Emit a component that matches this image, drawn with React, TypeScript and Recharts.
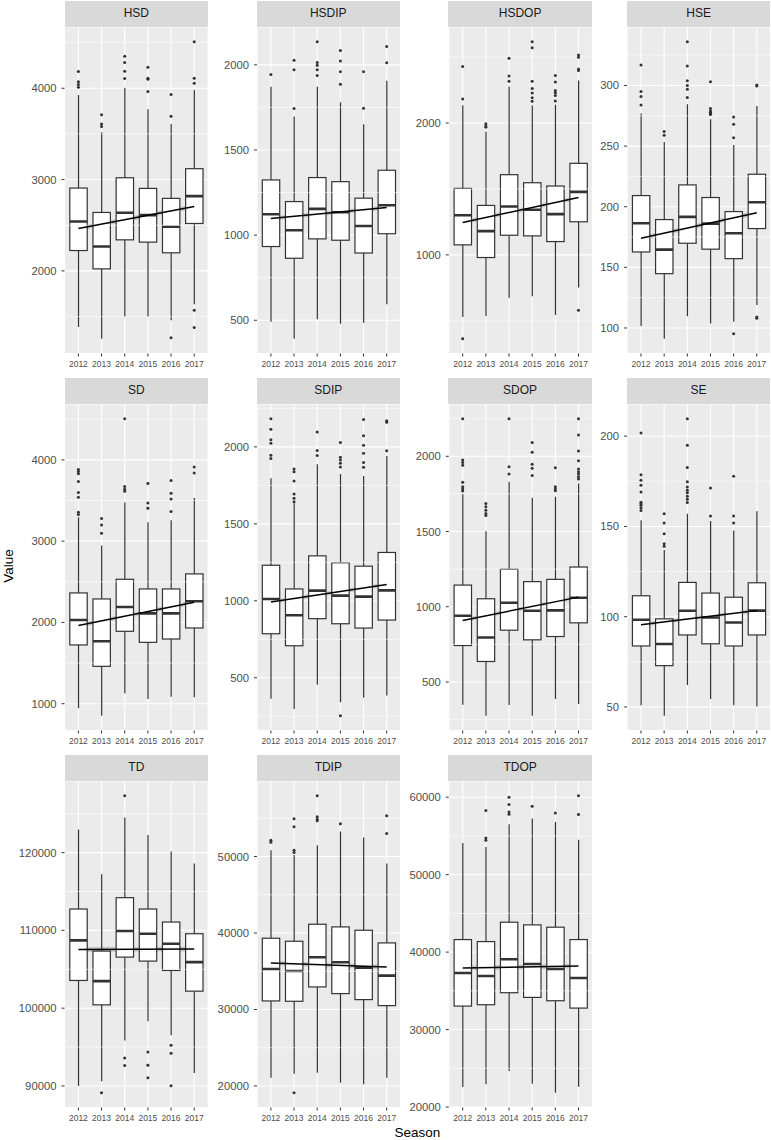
import React from 'react';
import {
  ComposedChart,
  Bar,
  Line,
  Area,
  Scatter,
  XAxis,
  YAxis,
  CartesianGrid,
  ReferenceLine,
} from 'recharts';

// ---------- categories ----------
const SEASONS = [2012, 2013, 2014, 2015, 2016, 2017];

// ---------- HSD ----------
const HSD_LO = [1386, 1258, 1496, 1496, 1459, 1635];
const HSD_Q1 = [2223, 2022, 2340, 2315, 2198, 2519];
const HSD_MED = [2541, 2267, 2636, 2611, 2483, 2819];
const HSD_Q3 = [2907, 2640, 3020, 2903, 2794, 3119];
const HSD_HI = [3927, 3517, 4004, 3770, 3609, 3982];
const HSD_OUT = [[4183, 4070, 4040, 4010], [3711, 3609, 3580], [4351, 4282, 4186, 4106], [4230, 4110, 4099, 3963], [3931, 3693, 1269], [4508, 4110, 4055, 1569, 1379]];
const HSD_FIT = [2464, 2706];
const HSD_CI = [25, 25];
const HSD_TICKS = [2000, 3000, 4000];

// ---------- HSDIP ----------
const HSDIP_LO = [492, 392, 506, 480, 486, 594];
const HSDIP_Q1 = [933, 864, 978, 970, 895, 1008];
const HSDIP_MED = [1123, 1029, 1154, 1134, 1054, 1175];
const HSDIP_Q3 = [1324, 1197, 1338, 1314, 1217, 1381];
const HSDIP_HI = [1871, 1696, 1871, 1781, 1651, 1906];
const HSDIP_OUT = [[1943], [2027, 1971, 1743], [2135, 2014, 1998, 1971, 1937], [2084, 2022, 1959, 1886], [1959, 1745], [2108, 2012]];
const HSDIP_FIT = [1097, 1162];
const HSDIP_CI = [12, 12];
const HSDIP_TICKS = [500, 1000, 1500, 2000];

// ---------- HSDOP ----------
const HSDOP_LO = [529, 537, 676, 686, 544, 752];
const HSDOP_Q1 = [1076, 980, 1149, 1144, 1101, 1251];
const HSDOP_MED = [1301, 1180, 1367, 1342, 1309, 1478];
const HSDOP_Q3 = [1504, 1375, 1608, 1547, 1522, 1694];
const HSDOP_HI = [2134, 1934, 2276, 2132, 2139, 2322];
const HSDOP_OUT = [[2428, 2182, 365], [1995, 1977, 1967], [2491, 2357, 2316], [2615, 2570, 2316, 2261, 2228, 2192, 2165], [2359, 2311, 2246, 2230, 2208, 2167], [2516, 2499, 2410, 2397, 580]];
const HSDOP_FIT = [1246, 1435];
const HSDOP_CI = [15, 15];
const HSDOP_TICKS = [1000, 2000];

// ---------- HSE ----------
const HSE_LO = [101.7, 91.2, 109.6, 103.6, 105.2, 119];
const HSE_Q1 = [162.7, 144.8, 169.9, 165, 157.2, 182];
const HSE_MED = [186.4, 164.6, 191.6, 186.1, 178.1, 203.7];
const HSE_Q3 = [209.2, 189.4, 218, 207.6, 196, 226.8];
const HSE_HI = [276.9, 253.5, 284.6, 272.2, 251, 283];
const HSE_OUT = [[317, 295, 291, 284], [262, 259], [336, 316, 304, 300, 297, 290], [303, 281, 279, 278, 277, 276], [274, 268, 257, 95.3], [300.5, 299.5, 109, 108]];
const HSE_FIT = [174, 195];
const HSE_CI = [1.8, 1.8];
const HSE_TICKS = [100, 150, 200, 250, 300];

// ---------- SD ----------
const SD_LO = [943, 853, 1128, 1058, 1087, 1078];
const SD_Q1 = [1723, 1460, 1891, 1755, 1796, 1932];
const SD_MED = [2030, 1768, 2190, 2112, 2112, 2260];
const SD_Q3 = [2363, 2289, 2531, 2412, 2412, 2597];
const SD_HI = [3294, 2946, 3475, 3233, 3257, 3532];
const SD_OUT = [[3881, 3856, 3828, 3733, 3598, 3540, 3356, 3327], [3280, 3200, 3097], [4505, 3672, 3639, 3614], [3709, 3471, 3405], [3746, 3590, 3520, 3364], [3914, 3840]];
const SD_FIT = [1961, 2248];
const SD_CI = [25, 25];
const SD_TICKS = [1000, 2000, 3000, 4000];

// ---------- SDIP ----------
const SDIP_LO = [363, 298, 454, 341, 370, 385];
const SDIP_Q1 = [786, 708, 884, 851, 823, 875];
const SDIP_MED = [1012, 906, 1066, 1034, 1027, 1068];
const SDIP_Q3 = [1231, 1077, 1292, 1247, 1225, 1314];
const SDIP_HI = [1796, 1633, 1887, 1824, 1811, 1940];
const SDIP_OUT = [[2182, 2115, 2046, 2024, 1946, 1924], [1857, 1839, 1779, 1694, 1666, 1644], [2096, 1976, 1944], [2028, 1933, 1915, 1894, 1870, 254], [2178, 2072, 2011, 1959, 1898, 1868], [2169, 2160, 1974]];
const SDIP_FIT = [993, 1106];
const SDIP_CI = [13, 13];
const SDIP_TICKS = [500, 1000, 1500, 2000];

// ---------- SDOP ----------
const SDOP_LO = [349, 276, 347, 276, 387, 353];
const SDOP_Q1 = [742, 636, 844, 780, 802, 893];
const SDOP_MED = [940, 796, 1027, 973, 976, 1060];
const SDOP_Q3 = [1144, 1053, 1249, 1167, 1182, 1264];
const SDOP_HI = [1749, 1502, 1831, 1724, 1731, 1820];
const SDOP_OUT = [[2249, 1976, 1958, 1940, 1827, 1798, 1782, 1769], [1687, 1664, 1642, 1620, 1607], [2249, 1931, 1882], [2091, 2027, 1947, 1920, 1873], [1924, 1798, 1782, 1771], [2249, 2142, 2036, 1971, 1916, 1898, 1882, 1864, 1849]];
const SDOP_FIT = [909, 1064];
const SDOP_CI = [13, 13];
const SDOP_TICKS = [500, 1000, 1500, 2000];

// ---------- SE ----------
const SE_LO = [51, 45.2, 62.2, 54.4, 51, 50.2];
const SE_Q1 = [83.8, 72.9, 89.9, 85, 83.8, 89.9];
const SE_MED = [98.3, 84.9, 103.3, 99.6, 96.8, 103.4];
const SE_Q3 = [111.6, 98.8, 119, 113.1, 110.8, 118.8];
const SE_HI = [153.4, 137, 157, 153, 147.8, 158.4];
const SE_OUT = [[201.8, 178.7, 175.6, 172.8, 169.1, 163.4, 162.6, 161.7, 160.4, 158.9], [157.1, 151.9, 146, 140.4, 139.1], [209.6, 195, 182.6, 174.8, 171.9, 170, 168.6, 166.7, 165, 163.2], [171.3, 155.8], [177.8, 155.8, 151.9], []];
const SE_FIT = [95.5, 103.4];
const SE_CI = [1.1, 1.1];
const SE_TICKS = [50, 100, 150, 200];

// ---------- TD ----------
const TD_LO = [90000, 90600, 95836, 98325, 96523, 91672];
const TD_Q1 = [103562, 100429, 106566, 106051, 104849, 102188];
const TD_MED = [108712, 103476, 109914, 109571, 108283, 105922];
const TD_Q3 = [112747, 107339, 114206, 112747, 111073, 109571];
const TD_HI = [122961, 117210, 124507, 122275, 120129, 118584];
const TD_OUT = [[], [89140], [127296, 93604, 92617], [94376, 92660, 91072], [95235, 94205, 90042], []];
const TD_FIT = [107553, 107596];
const TD_CI = [320, 320];
const TD_TICKS = [90000, 100000, 110000, 120000];

// ---------- TDIP ----------
const TDIP_LO = [21087, 21610, 21741, 20432, 20214, 21087];
const TDIP_Q1 = [31117, 31073, 32948, 32076, 31291, 30506];
const TDIP_MED = [35303, 35042, 36830, 36175, 35478, 34431];
const TDIP_Q3 = [39316, 38923, 41147, 40800, 40362, 38705];
const TDIP_HI = [50829, 50200, 51483, 53271, 52486, 49084];
const TDIP_OUT = [[52137, 51875], [54928, 53881, 50829, 50523, 19124], [57937, 55190, 54884, 54666], [54274], [], [55320, 53009]];
const TDIP_FIT = [36088, 35565];
const TDIP_CI = [300, 300];
const TDIP_TICKS = [20000, 30000, 40000, 50000];

// ---------- TDOP ----------
const TDOP_LO = [22589, 22934, 24660, 23020, 21855, 22632];
const TDOP_Q1 = [33031, 33204, 34757, 34153, 33722, 32773];
const TDOP_MED = [37303, 36915, 39072, 38468, 37821, 36656];
const TDOP_Q3 = [41618, 41359, 43862, 43517, 43215, 41618];
const TDOP_HI = [54088, 53571, 56505, 57238, 56807, 54520];
const TDOP_OUT = [[], [58274, 54735, 54433], [60000, 59051, 58102, 57799], [58835], [57972], [60173, 57756]];
const TDOP_FIT = [37951, 38210];
const TDOP_CI = [300, 300];
const TDOP_TICKS = [20000, 30000, 40000, 50000, 60000];

const PANELS = [
  { name: 'HSD', lo: HSD_LO, q1: HSD_Q1, med: HSD_MED, q3: HSD_Q3, hi: HSD_HI, out: HSD_OUT, fit: HSD_FIT, ci: HSD_CI, ticks: HSD_TICKS },
  { name: 'HSDIP', lo: HSDIP_LO, q1: HSDIP_Q1, med: HSDIP_MED, q3: HSDIP_Q3, hi: HSDIP_HI, out: HSDIP_OUT, fit: HSDIP_FIT, ci: HSDIP_CI, ticks: HSDIP_TICKS },
  { name: 'HSDOP', lo: HSDOP_LO, q1: HSDOP_Q1, med: HSDOP_MED, q3: HSDOP_Q3, hi: HSDOP_HI, out: HSDOP_OUT, fit: HSDOP_FIT, ci: HSDOP_CI, ticks: HSDOP_TICKS },
  { name: 'HSE', lo: HSE_LO, q1: HSE_Q1, med: HSE_MED, q3: HSE_Q3, hi: HSE_HI, out: HSE_OUT, fit: HSE_FIT, ci: HSE_CI, ticks: HSE_TICKS },
  { name: 'SD', lo: SD_LO, q1: SD_Q1, med: SD_MED, q3: SD_Q3, hi: SD_HI, out: SD_OUT, fit: SD_FIT, ci: SD_CI, ticks: SD_TICKS },
  { name: 'SDIP', lo: SDIP_LO, q1: SDIP_Q1, med: SDIP_MED, q3: SDIP_Q3, hi: SDIP_HI, out: SDIP_OUT, fit: SDIP_FIT, ci: SDIP_CI, ticks: SDIP_TICKS },
  { name: 'SDOP', lo: SDOP_LO, q1: SDOP_Q1, med: SDOP_MED, q3: SDOP_Q3, hi: SDOP_HI, out: SDOP_OUT, fit: SDOP_FIT, ci: SDOP_CI, ticks: SDOP_TICKS },
  { name: 'SE', lo: SE_LO, q1: SE_Q1, med: SE_MED, q3: SE_Q3, hi: SE_HI, out: SE_OUT, fit: SE_FIT, ci: SE_CI, ticks: SE_TICKS },
  { name: 'TD', lo: TD_LO, q1: TD_Q1, med: TD_MED, q3: TD_Q3, hi: TD_HI, out: TD_OUT, fit: TD_FIT, ci: TD_CI, ticks: TD_TICKS },
  { name: 'TDIP', lo: TDIP_LO, q1: TDIP_Q1, med: TDIP_MED, q3: TDIP_Q3, hi: TDIP_HI, out: TDIP_OUT, fit: TDIP_FIT, ci: TDIP_CI, ticks: TDIP_TICKS },
  { name: 'TDOP', lo: TDOP_LO, q1: TDOP_Q1, med: TDOP_MED, q3: TDOP_Q3, hi: TDOP_HI, out: TDOP_OUT, fit: TDOP_FIT, ci: TDOP_CI, ticks: TDOP_TICKS },
];

// ---------- layout ----------
const FONT = '"Liberation Sans", Arial, Helvetica, sans-serif';
const COL_LEFT = [64.5, 256.5, 448.3, 626.8];
const AXIS_W = [64.5, 48, 47.8, 35.1];
const ROW_TOP = [1, 378, 755];
const STRIP_H = 25.5;
const PANEL_W = 143.6;
const PANEL_H = 326.5;
const XAXIS_H = 20;
const BOX_W = 17.4;
const INK = '#333333';

const BoxShape = (props: any) => {
  const { x, y, width, height, payload } = props;
  if (payload == null || x == null) return null;
  const top = Math.min(y, y + height);
  const bot = Math.max(y, y + height);
  const k = (bot - top) / (payload.q3 - payload.q1);
  const py = (v: number) => bot - (v - payload.q1) * k;
  const cx = x + width / 2;
  return (
    <g>
      <line x1={cx} x2={cx} y1={py(payload.q3)} y2={py(payload.hi)} stroke={INK} strokeWidth={1.2} />
      <line x1={cx} x2={cx} y1={py(payload.q1)} y2={py(payload.lo)} stroke={INK} strokeWidth={1.2} />
      <rect x={x} y={top} width={width} height={bot - top} fill="#FFFFFF" stroke={INK} strokeWidth={1.2} />
      <line x1={x} x2={x + width} y1={py(payload.med)} y2={py(payload.med)} stroke={INK} strokeWidth={2.6} />
    </g>
  );
};

const Dot = (props: any) => {
  if (props.cx == null) return null;
  return <circle cx={props.cx} cy={props.cy} r={1.5} fill={INK} />;
};

function Panel({ p, idx }: { p: any; idx: number }) {
  const row = Math.floor(idx / 4);
  const col = idx % 4;
  const rows = SEASONS.map((s, i) => ({
    year: s,
    lo: p.lo[i],
    q1: p.q1[i],
    med: p.med[i],
    q3: p.q3[i],
    hi: p.hi[i],
  }));
  const outRows = SEASONS.flatMap((s, i) => p.out[i].map((v: number) => ({ year: s, v })));
  const fitRows = [
    { year: SEASONS[0], fit: p.fit[0], band: [p.fit[0] - p.ci[0], p.fit[0] + p.ci[0]] },
    { year: SEASONS[SEASONS.length - 1], fit: p.fit[1], band: [p.fit[1] - p.ci[1], p.fit[1] + p.ci[1]] },
  ];
  const all = [...p.lo, ...p.hi, ...p.out.flat()];
  const mn = Math.min(...all);
  const mx = Math.max(...all);
  const pad = (mx - mn) * 0.05;
  const domain = [mn - pad, mx + pad];
  const step = p.ticks[1] - p.ticks[0];
  const minor = [p.ticks[0] - step / 2, ...p.ticks.map((t: number) => t + step / 2)].filter(
    (v: number) => v > domain[0] && v < domain[1]
  );
  const left = COL_LEFT[col];
  const top = ROW_TOP[row];
  const aw = AXIS_W[col];
  return (
    <>
      <div
        style={{
          position: 'absolute',
          left,
          top,
          width: PANEL_W,
          height: STRIP_H,
          background: '#D9D9D9',
          color: '#1A1A1A',
          fontFamily: FONT,
          fontSize: 12,
          lineHeight: `${STRIP_H}px`,
          textAlign: 'center',
        }}
      >
        {p.name}
      </div>
      <div style={{ position: 'absolute', left: left - aw, top: top + STRIP_H }}>
        <ComposedChart
          width={aw + PANEL_W}
          height={PANEL_H + XAXIS_H}
          data={rows}
          margin={{ top: 0, right: 0, bottom: 0, left: 0 }}
        >
          <CartesianGrid fill="#EBEBEB" stroke="#FFFFFF" strokeWidth={1.1} />
          {minor.map((v: number) => (
            <ReferenceLine key={v} y={v} stroke="#FFFFFF" strokeWidth={0.55} />
          ))}
          <XAxis
            dataKey="year"
            type="number"
            domain={[2011.4, 2017.6]}
            allowDataOverflow
            ticks={SEASONS}
            interval={0}
            height={XAXIS_H}
            axisLine={false}
            tickSize={3}
            tickMargin={4}
            tickLine={{ stroke: INK, strokeWidth: 1 }}
            tick={{ fill: '#4D4D4D', fontSize: 8.5, fontFamily: FONT }}
          />
          <YAxis
            type="number"
            domain={domain}
            allowDataOverflow
            ticks={p.ticks}
            interval={0}
            width={aw}
            axisLine={false}
            tickSize={3}
            tickMargin={5}
            tickLine={{ stroke: INK, strokeWidth: 1 }}
            tick={{ fill: '#4D4D4D', fontSize: 11.3, fontFamily: FONT }}
          />
          <Bar
            dataKey={(d: any) => [d.q1, d.q3]}
            barSize={BOX_W}
            shape={BoxShape}
            isAnimationActive={false}
          />
          <Scatter data={outRows} dataKey="v" shape={Dot} isAnimationActive={false} />
          <Area
            data={fitRows}
            dataKey="band"
            stroke="none"
            fill="#999999"
            fillOpacity={0.4}
            isAnimationActive={false}
            dot={false}
            activeDot={false}
          />
          <Line
            data={fitRows}
            dataKey="fit"
            stroke="#000000"
            strokeWidth={1.5}
            dot={false}
            activeDot={false}
            isAnimationActive={false}
          />
        </ComposedChart>
      </div>
    </>
  );
}

export default function App() {
  return (
    <div style={{ position: 'absolute', left: 0, top: 0, width: 771, height: 1140, background: '#FFFFFF', overflow: 'hidden' }}>
      <svg width={771} height={1140} style={{ position: 'absolute', left: 0, top: 0 }}>
        <text
          x={13}
          y={566}
          transform="rotate(-90 13 566)"
          textAnchor="middle"
          fontFamily={FONT}
          fontSize={13.5}
          fill="#000000"
        >
          Value
        </text>
        <text x={417.4} y={1137} textAnchor="middle" fontFamily={FONT} fontSize={13.5} fill="#000000">
          Season
        </text>
      </svg>
      {PANELS.map((p, i) => (
        <Panel key={p.name} p={p} idx={i} />
      ))}
    </div>
  );
}
